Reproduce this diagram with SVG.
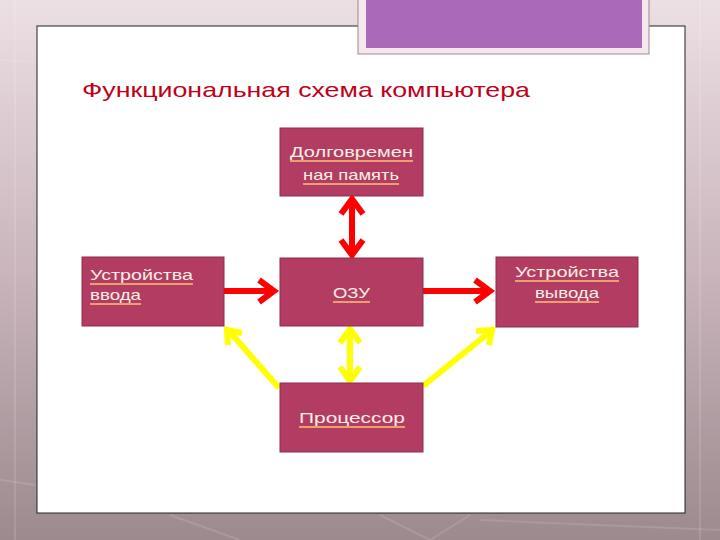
<svg xmlns="http://www.w3.org/2000/svg" width="720" height="540" viewBox="0 0 720 540">
<defs>
<linearGradient id="bg" x1="0" y1="0" x2="0" y2="1">
<stop offset="0" stop-color="#ecdfe3"/>
<stop offset="0.5" stop-color="#c9b5bb"/>
<stop offset="1" stop-color="#9c8a8f"/>
</linearGradient>
<style>
.box{fill:#b23c62;stroke:#8e2d4c;stroke-width:1}
.lbl{font-family:"Liberation Sans",Arial,sans-serif;font-size:15px;fill:#fdf0e4}
.ul{stroke:#ffc070;stroke-width:1.5}
.red{stroke:#ff0000;stroke-width:6;fill:none;stroke-linejoin:miter}
.yel{stroke:#ffff00;stroke-width:6;fill:none;stroke-linejoin:miter}
</style>
</defs>
<rect width="720" height="540" fill="url(#bg)"/>
<g stroke="#ffffff" stroke-opacity="0.12" stroke-width="2" fill="none">
<line x1="15" y1="0" x2="15" y2="540"/>
<line x1="700" y1="0" x2="700" y2="540"/>
<line x1="0" y1="60" x2="36" y2="62"/>
<line x1="0" y1="480" x2="36" y2="485"/>
<line x1="170" y1="515" x2="240" y2="540"/>
<line x1="380" y1="515" x2="430" y2="540"/>
<line x1="470" y1="515" x2="430" y2="540"/>
<line x1="480" y1="520" x2="720" y2="530"/>
</g>
<rect x="37" y="26" width="648" height="487" fill="#ffffff" stroke="#222" stroke-width="1"/>
<rect x="358" y="-2" width="291" height="56" fill="#f7e8ee" stroke="#9a8a90" stroke-width="1"/>
<rect x="366" y="-2" width="276" height="50" fill="#ab69b9"/>
<text id="title" x="82" y="97" font-family="'Liberation Sans',Arial,sans-serif" font-size="21" fill="#c0001a" textLength="448" lengthAdjust="spacingAndGlyphs">Функциональная схема компьютера</text>

<g id="connectors">
<line class="red" x1="352" y1="202" x2="352" y2="252"/>
<polyline class="red" points="341,214 352,199 363,214"/>
<polyline class="red" points="341,240 352,255 363,240"/>
<line class="red" x1="224" y1="291" x2="274" y2="291"/>
<polyline class="red" points="259,280 274,291 259,302"/>
<line class="red" x1="423" y1="291" x2="490" y2="291"/>
<polyline class="red" points="475,280 490,291 475,302"/>
<line class="yel" x1="350" y1="332" x2="350" y2="378"/>
<polyline class="yel" points="340,343 350,329 360,343"/>
<polyline class="yel" points="340,367 350,381 360,367"/>
<line class="yel" x1="279" y1="388" x2="229" y2="331"/>
<polyline class="yel" points="228,345 227,330 242,333"/>
<line class="yel" x1="423" y1="386" x2="491" y2="331"/>
<polyline class="yel" points="476,331 492,330 489,345"/>
</g>

<g id="n-ltm">
<rect class="box" x="280" y="128" width="143" height="68"/>
<text class="lbl" x="290" y="157" textLength="123" lengthAdjust="spacingAndGlyphs">Долговремен</text>
<line class="ul" x1="290" y1="161" x2="413" y2="161"/>
<text class="lbl" x="303" y="180" textLength="96" lengthAdjust="spacingAndGlyphs">ная память</text>
<line class="ul" x1="303" y1="184" x2="399" y2="184"/>
</g>
<g id="n-ram">
<rect class="box" x="280" y="258" width="143" height="68"/>
<text class="lbl" x="333" y="298" textLength="37" lengthAdjust="spacingAndGlyphs">ОЗУ</text>
<line class="ul" x1="333" y1="302" x2="370" y2="302"/>
</g>
<g id="n-cpu">
<rect class="box" x="280" y="383" width="143" height="69"/>
<text class="lbl" x="299" y="423" textLength="106" lengthAdjust="spacingAndGlyphs">Процессор</text>
<line class="ul" x1="299" y1="427" x2="405" y2="427"/>
</g>
<g id="n-in">
<rect class="box" x="82" y="257" width="142" height="69"/>
<text class="lbl" x="90" y="280" textLength="103" lengthAdjust="spacingAndGlyphs">Устройства</text>
<line class="ul" x1="90" y1="284" x2="193" y2="284"/>
<text class="lbl" x="90" y="300" textLength="51" lengthAdjust="spacingAndGlyphs">ввода</text>
<line class="ul" x1="90" y1="304" x2="141" y2="304"/>
</g>
<g id="n-out">
<rect class="box" x="496" y="257" width="142" height="70"/>
<text class="lbl" x="515" y="277" textLength="104" lengthAdjust="spacingAndGlyphs">Устройства</text>
<line class="ul" x1="515" y1="281" x2="619" y2="281"/>
<text class="lbl" x="535" y="298" textLength="64" lengthAdjust="spacingAndGlyphs">вывода</text>
<line class="ul" x1="535" y1="302" x2="599" y2="302"/>
</g>
</svg>
